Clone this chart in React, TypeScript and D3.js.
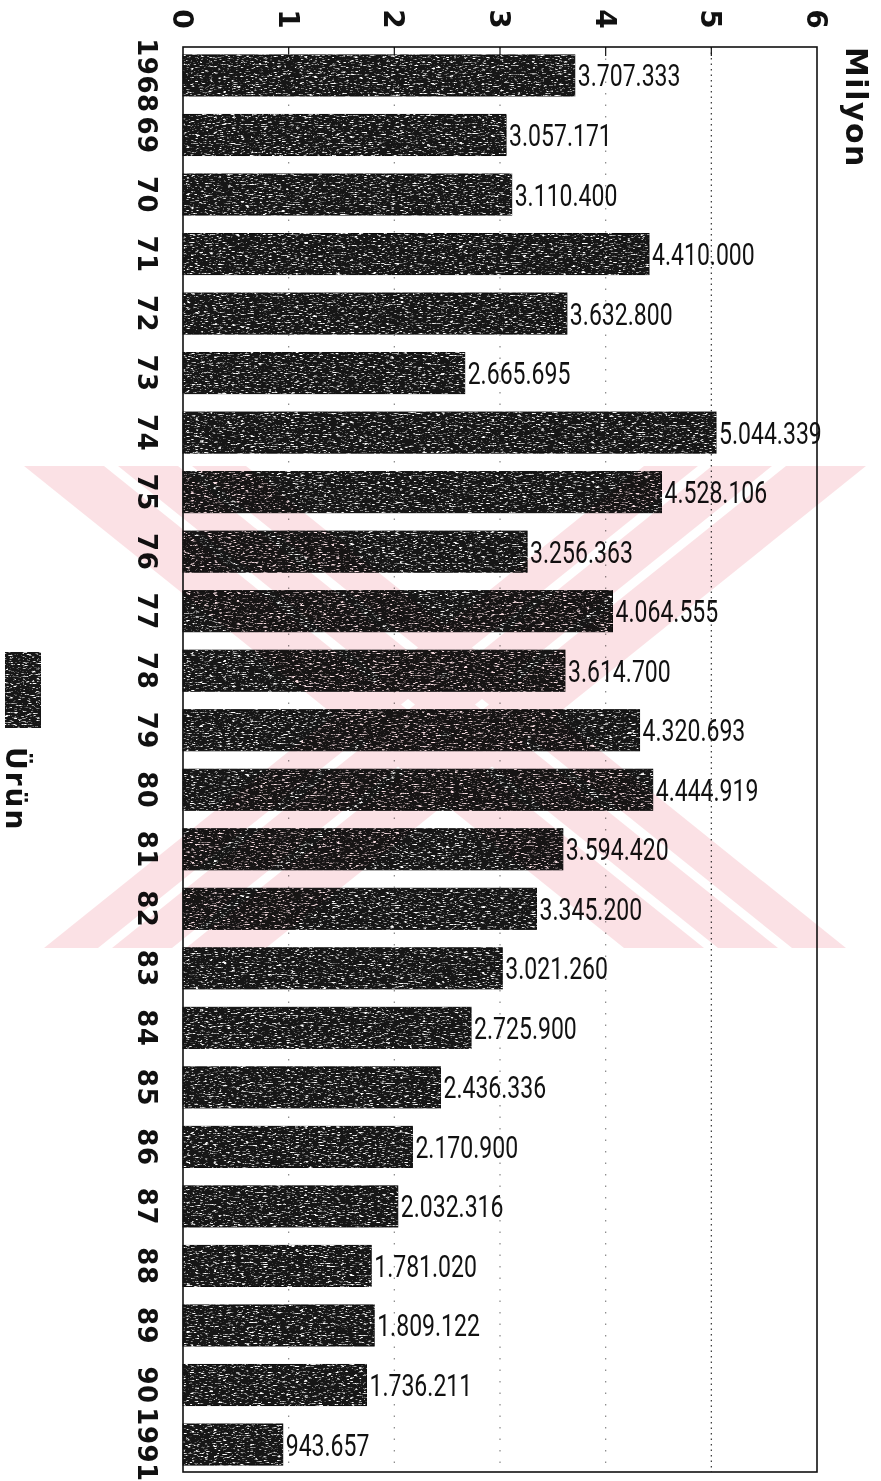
import React from "react";
import * as d3 from "d3";

// Yearly production ("Ürün"), in tonnes
const YEARS = [
  "1968", "69", "70", "71", "72", "73", "74", "75", "76", "77", "78", "79",
  "80", "81", "82", "83", "84", "85", "86", "87", "88", "89", "90", "1991",
];
const VALUES = [
  3707333, 3057171, 3110400, 4410000, 3632800, 2665695, 5044339, 4528106,
  3256363, 4064555, 3614700, 4320693, 4444919, 3594420, 3345200, 3021260,
  2725900, 2436336, 2170900, 2032316, 1781020, 1809122, 1736211, 943657,
];
const AXIS_TICKS = [0, 1, 2, 3, 4, 5, 6];
const UNIT_LABEL = "Milyon";
const SERIES_LABEL = "Ürün";

const W = 881;
const H = 1481;
const FRAME = { left: 183, right: 817, top: 47, bottom: 1472 };

const trFormat = d3.formatLocale({
  decimal: ",",
  thousands: ".",
  grouping: [3],
  currency: ["", ""],
}).format(",d");

const BOLD = "'DejaVu Sans', Verdana, sans-serif";

export default function App() {
  const x = d3.scaleLinear().domain([0, 6]).range([FRAME.left, FRAME.right]);
  const y = d3
    .scaleBand<string>()
    .domain(YEARS)
    .range([46, 1474])
    .paddingInner(0.31)
    .paddingOuter(0.15);
  const bw = y.bandwidth();

  // pink diagonal bands of the background seal (a large X)
  const wmTop = 466;
  const wmBottom = 948;
  const shift = 600;
  const cx = 445;
  const leftStripes: [number, number][] = [
    [24, 104],
    [118, 178],
    [192, 246],
  ];
  const stripePoly = (a: number, b: number, mirror: boolean) => {
    const pts = [
      [a, wmTop],
      [b, wmTop],
      [b + shift, wmBottom],
      [a + shift, wmBottom],
    ].map(([px, py]) => [mirror ? 2 * cx - px : px, py]);
    return pts.map((p) => p.join(",")).join(" ");
  };

  return (
    <svg
      width={W}
      height={H}
      viewBox={`0 0 ${W} ${H}`}
      style={{ position: "absolute", left: 0, top: 0, background: "#fff" }}
    >
      <defs>
        <filter
          id="grain"
          x="-0.02"
          y="-0.1"
          width="1.04"
          height="1.2"
          colorInterpolationFilters="sRGB"
        >
          <feTurbulence
            type="fractalNoise"
            baseFrequency="0.22 0.9"
            numOctaves={3}
            seed={7}
            result="noise"
          />
          <feColorMatrix
            in="noise"
            type="matrix"
            values="0 0 0 0 1  0 0 0 0 1  0 0 0 0 1  5 0 0 0 -2.8"
            result="speck"
          />
          <feComposite in="speck" in2="SourceGraphic" operator="in" result="speckIn" />
          <feMerge>
            <feMergeNode in="SourceGraphic" />
            <feMergeNode in="speckIn" />
          </feMerge>
        </filter>
        <clipPath id="wmClip">
          <rect x={18} y={wmTop} width={856} height={wmBottom - wmTop} />
        </clipPath>
      </defs>

      <rect x={0} y={0} width={W} height={H} fill="#fff" />

      {/* dotted gridlines */}
      {AXIS_TICKS.slice(1, -1).map((t) => (
        <line
          key={`g${t}`}
          x1={x(t)}
          x2={x(t)}
          y1={FRAME.top}
          y2={FRAME.bottom}
          stroke={t === 5 ? "#333" : "#888"}
          strokeWidth={1.2}
          strokeDasharray={t === 5 ? "1.5 4" : "1.5 10"}
        />
      ))}
      {AXIS_TICKS.slice(1, -1).map((t) => (
        <line
          key={`tk${t}`}
          x1={x(t)}
          x2={x(t)}
          y1={FRAME.top}
          y2={FRAME.top + 9}
          stroke="#111"
          strokeWidth={1.2}
        />
      ))}

      {/* bars */}
      {YEARS.map((yr, i) => (
        <rect
          key={yr}
          x={x(0)}
          y={y(yr)}
          width={x(VALUES[i] / 1e6) - x(0)}
          height={bw}
          fill="#161616"
          stroke="#0a0a0a"
          strokeWidth={1}
          filter="url(#grain)"
        />
      ))}

      {/* value labels */}
      {YEARS.map((yr, i) => (
        <text
          key={`v${yr}`}
          transform={`translate(${x(VALUES[i] / 1e6) + 3},${(y(yr) as number) + bw / 2 + 11}) scale(0.72,1)`}
          fontFamily="Roboto, sans-serif"
          fontWeight={400}
          fontSize={32}
          fill="#111"
        >
          {trFormat(VALUES[i])}
        </text>
      ))}

      {/* frame */}
      <rect
        x={FRAME.left}
        y={FRAME.top}
        width={FRAME.right - FRAME.left}
        height={FRAME.bottom - FRAME.top}
        fill="none"
        stroke="#111"
        strokeWidth={1.6}
      />

      {/* axis tick labels (rotated) */}
      {AXIS_TICKS.map((t) => (
        <text
          key={`t${t}`}
          transform={`translate(${x(t) - 10},${19}) rotate(90)`}
          textAnchor="middle"
          fontFamily={BOLD}
          fontWeight="bold"
          fontSize={28}
          fill="#111"
        >
          {t}
        </text>
      ))}

      {/* year labels (rotated) */}
      {YEARS.map((yr) => (
        <text
          key={`y${yr}`}
          transform={`translate(138,${(y(yr) as number) + bw / 2}) rotate(90)`}
          textAnchor="middle"
          fontFamily={BOLD}
          fontWeight="bold"
          fontSize={26}
          letterSpacing={0.5}
          fill="#111"
        >
          {yr}
        </text>
      ))}

      {/* unit label */}
      <text
        transform={`translate(846,47) rotate(90)`}
        fontFamily={BOLD}
        fontWeight="bold"
        fontSize={30}
        letterSpacing={1.5}
        fill="#111"
      >
        {UNIT_LABEL}
      </text>

      {/* legend */}
      <rect
        x={5}
        y={652}
        width={36}
        height={76}
        fill="#161616"
        filter="url(#grain)"
      />
      <text
        transform={`translate(6,747) rotate(90)`}
        fontFamily={BOLD}
        fontWeight="bold"
        fontSize={28}
        letterSpacing={2}
        fill="#111"
      >
        {SERIES_LABEL}
      </text>

      {/* background seal, multiplied over the drawing */}
      <g clipPath="url(#wmClip)" style={{ mixBlendMode: "multiply" }} opacity={0.5}>
        {leftStripes.map(([a, b], k) => (
          <polygon key={`l${k}`} points={stripePoly(a, b, false)} fill="#f7c4cb" />
        ))}
        {leftStripes.map(([a, b], k) => (
          <polygon key={`r${k}`} points={stripePoly(a, b, true)} fill="#f7c4cb" />
        ))}
      </g>
    </svg>
  );
}
